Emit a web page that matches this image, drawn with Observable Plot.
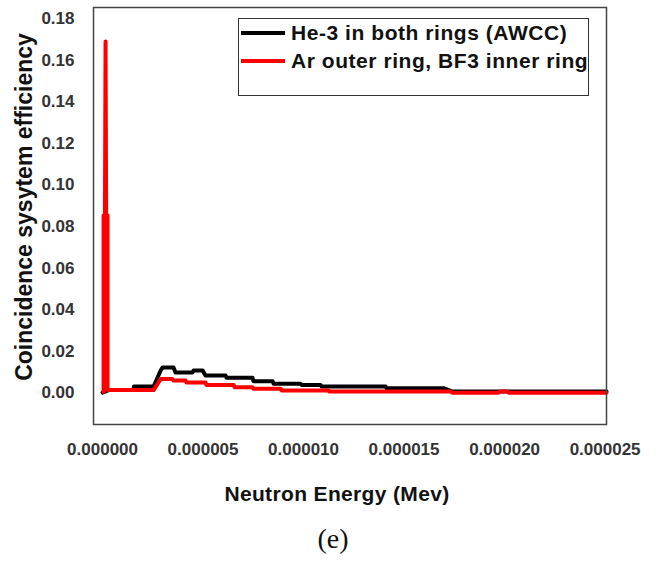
<!DOCTYPE html>
<html>
<head>
<meta charset="utf-8">
<script src="https://cdn.jsdelivr.net/npm/d3@7"></script>
<script src="https://cdn.jsdelivr.net/npm/@observablehq/plot@0.6"></script>
<style>
  html, body { margin: 0; padding: 0; background: #fff; }
  #wrap { position: relative; width: 660px; height: 561px; font-family: "Liberation Sans", Arial, sans-serif; overflow: hidden; }
  #wrap svg { position: absolute; left: 0; top: 0; }
  .ytitle { position: absolute; left: 24px; top: 207px; transform: translate(-50%, -50%) rotate(-90deg); white-space: nowrap; font-weight: bold; font-size: 23px; color: #111; }
  .xtitle { position: absolute; left: 337px; top: 494px; transform: translate(-50%, -50%); white-space: nowrap; font-weight: bold; font-size: 21px; letter-spacing: 0.35px; color: #111; }
  .caption { position: absolute; left: 333px; top: 539px; transform: translate(-50%, -50%); white-space: nowrap; font-family: "Liberation Serif", "Times New Roman", serif; font-size: 28px; line-height: 32px; color: #111; }
  .legend { position: absolute; left: 238px; top: 18px; width: 351px; height: 78px; border: 1.5px solid #333; background: #fff; box-sizing: border-box; }
  .legend .row { position: absolute; left: 0; height: 24px; display: flex; align-items: center; }
  .legend .sw { width: 44px; height: 4px; margin-left: 2px; margin-right: 6px; }
  .legend .lab { font-weight: bold; font-size: 21px; letter-spacing: 0.55px; color: #111; white-space: nowrap; }
</style>
</head>
<body>
<div id="wrap"></div>
<script>
// Series names
const seriesNames = ["He-3 in both rings (AWCC)", "Ar outer ring, BF3 inner ring"];
const seriesColors = ["#000000", "#ff0000"];

// Neutron energy in units of 1e-6 MeV
const heX = [0.0, 0.30, 1.54, 1.56, 2.54, 2.89, 2.99, 3.53, 3.63, 4.48, 4.53, 4.98, 5.12, 6.12, 6.17, 7.46, 7.51, 8.46, 8.51, 9.85, 9.90, 10.85, 10.90, 14.08, 14.13, 16.97, 17.41, 25.07];
const heY = [0.0002, 0.0014, 0.0014, 0.0031, 0.0031, 0.0108, 0.0123, 0.0123, 0.0099, 0.0099, 0.0108, 0.0108, 0.0084, 0.0084, 0.0073, 0.0073, 0.0057, 0.0057, 0.0044, 0.0044, 0.0038, 0.0038, 0.0031, 0.0031, 0.0023, 0.0023, 0.0007, 0.0007];

const arX = [0.05, 0.05, 0.12, 0.15, 0.18, 0.25, 0.25, 0.30, 2.54, 2.89, 3.48, 3.53, 4.13, 4.18, 5.12, 5.17, 6.52, 6.57, 7.46, 7.51, 8.86, 8.91, 11.24, 11.29, 17.31, 17.41, 19.70, 19.75, 20.15, 20.20, 25.07];
const arY = [0.0005, 0.0853, 0.0853, 0.1690, 0.0853, 0.0853, 0.0014, 0.0014, 0.0014, 0.0067, 0.0067, 0.0060, 0.0060, 0.0050, 0.0050, 0.0039, 0.0039, 0.0028, 0.0028, 0.0020, 0.0020, 0.0012, 0.0012, 0.0007, 0.0007, 0.0001, 0.0001, 0.0007, 0.0007, 0.0001, 0.0001];

// Ticks
const xTicks = [0, 5, 10, 15, 20, 25];
const xTickLabels = ["0.000000", "0.000005", "0.000010", "0.000015", "0.000020", "0.000025"];
const yTicks = [0, 0.02, 0.04, 0.06, 0.08, 0.10, 0.12, 0.14, 0.16, 0.18];
const yTickLabels = ["0.00", "0.02", "0.04", "0.06", "0.08", "0.10", "0.12", "0.14", "0.16", "0.18"];

const xTitle = "Neutron Energy (Mev)";
const yTitle = "Coincidence sysytem efficiency";
const captionText = "(e)";

const heData = heX.map((x, i) => ({x, y: heY[i]}));
const arData = arX.map((x, i) => ({x, y: arY[i]}));

const chart = Plot.plot({
  width: 660,
  height: 561,
  marginLeft: 93,
  marginRight: 54,
  marginTop: 7,
  marginBottom: 137,
  style: { fontFamily: "Liberation Sans, Arial, sans-serif", background: "transparent", overflow: "visible" },
  x: { domain: [-0.45, 25.07] },
  y: { domain: [-0.01514, 0.1853] },
  marks: [
    Plot.axisX(xTicks, { tickSize: 0, tickPadding: 18, tickFormat: (d) => xTickLabels[xTicks.indexOf(d)], fontSize: 17, fontWeight: "bold", fill: "#333", letterSpacing: "0.6px", label: null }),
    Plot.axisY(yTicks, { tickSize: 0, tickPadding: 19, tickFormat: (d) => yTickLabels[yTicks.indexOf(d)], fontSize: 17, fontWeight: "bold", fill: "#333", letterSpacing: "0.6px", label: null }),
    Plot.line(heData, { x: "x", y: "y", stroke: seriesColors[0], strokeWidth: 4, strokeLinejoin: "round" }),
    Plot.line(arData, { x: "x", y: "y", stroke: seriesColors[1], strokeWidth: 4, strokeLinejoin: "round" }),
    Plot.frame({ stroke: "#444", strokeWidth: 1.5 })
  ]
});

const wrap = document.getElementById("wrap");
wrap.appendChild(chart);

const yt = document.createElement("div"); yt.className = "ytitle"; yt.textContent = yTitle; wrap.appendChild(yt);
const xt = document.createElement("div"); xt.className = "xtitle"; xt.textContent = xTitle; wrap.appendChild(xt);
const cap = document.createElement("div"); cap.className = "caption"; cap.textContent = captionText; wrap.appendChild(cap);

const leg = document.createElement("div"); leg.className = "legend";
seriesNames.forEach((name, i) => {
  const row = document.createElement("div"); row.className = "row";
  row.style.top = (2 + i * 28) + "px";
  const sw = document.createElement("div"); sw.className = "sw"; sw.style.background = seriesColors[i];
  const lab = document.createElement("span"); lab.className = "lab"; lab.textContent = name;
  row.appendChild(sw); row.appendChild(lab); leg.appendChild(row);
});
wrap.appendChild(leg);
</script>
</body>
</html>
